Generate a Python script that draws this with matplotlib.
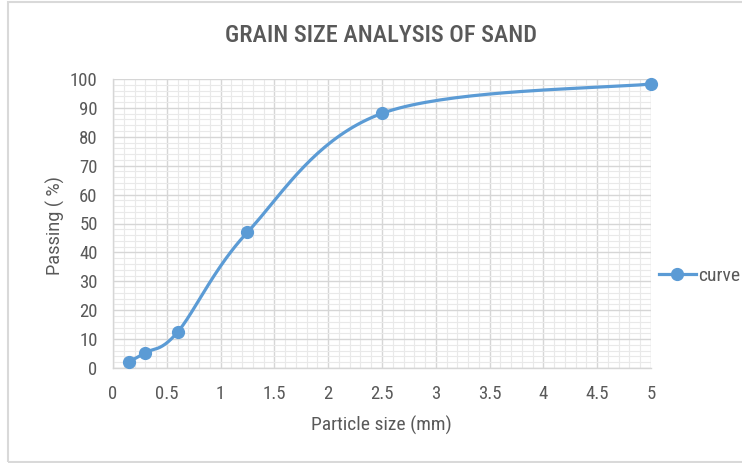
import matplotlib
matplotlib.use("Agg")
import matplotlib.pyplot as plt
import numpy as np
from matplotlib.patches import Rectangle
from matplotlib.lines import Line2D
from matplotlib.ticker import MultipleLocator

# ---- data ----
particle_size = [0.15, 0.3, 0.6, 1.25, 2.5, 5.0]
passing = [2.2, 5.3, 12.4, 47.0, 88.1, 98.3]
series_name = "curve"
title = "GRAIN SIZE ANALYSIS OF SAND"
x_label = "Particle size (mm)"
y_label = "Passing ( %)"
x_ticks = [0, 0.5, 1, 1.5, 2, 2.5, 3, 3.5, 4, 4.5, 5]
x_tick_labels = ["0", "0.5", "1", "1.5", "2", "2.5", "3", "3.5", "4", "4.5", "5"]
y_ticks = [0, 10, 20, 30, 40, 50, 60, 70, 80, 90, 100]

COND = ["Roboto Condensed", "Roboto", "DejaVu Sans"]
REG = ["Roboto", "DejaVu Sans"]
BLUE = "#5B9BD5"
TXT = "#595959"

W, H = 742, 463
fig = plt.figure(figsize=(W / 100, H / 100), dpi=100)
fig.patch.set_facecolor("white")

# outer chart border
fig.add_artist(Rectangle((8 / W, 1.5 / H), 1.2, 1 - 3 / H, transform=fig.transFigure,
                         fill=False, edgecolor="#d9d9d9", linewidth=1.5))

ax = fig.add_axes([113 / W, 1 - 368 / H, (651 - 113) / W, (368 - 79) / H])
ax.set_xlim(0, 5)
ax.set_ylim(0, 100)
ax.set_xticks(x_ticks)
ax.set_xticklabels(x_tick_labels)
ax.set_yticks(y_ticks)
ax.xaxis.set_minor_locator(MultipleLocator(0.1))
ax.yaxis.set_minor_locator(MultipleLocator(2))
ax.grid(True, which="major", color="#d6d6d6", linewidth=1.0)
ax.grid(True, which="minor", color="#e9e9e9", linewidth=0.8)
ax.set_axisbelow(True)
for s in ["top", "right"]:
    ax.spines[s].set_visible(False)
for s in ["left", "bottom"]:
    ax.spines[s].set_color("#d6d6d6")
    ax.spines[s].set_linewidth(1.0)
ax.tick_params(which="both", length=0)
ax.tick_params(axis="x", pad=12, labelsize=13.5, labelcolor=TXT)
ax.tick_params(axis="y", pad=11, labelsize=13.5, labelcolor=TXT)
for lab in ax.get_xticklabels() + ax.get_yticklabels():
    lab.set_family(COND)

# Excel-like smoothed line (Bezier through points, computed in pixel space)
fig.canvas.draw()
pts = ax.transData.transform(np.column_stack([particle_size, passing]))
n = len(pts)
curve = [pts[0]]
t = np.linspace(0, 1, 40)[1:]
for i in range(n - 1):
    p0 = pts[max(i - 1, 0)]
    p1 = pts[i]
    p2 = pts[i + 1]
    p3 = pts[min(i + 2, n - 1)]
    c1 = p1 + (p2 - p0) / 6.0
    c2 = p2 - (p3 - p1) / 6.0
    seg = ((1 - t) ** 3)[:, None] * p1 + (3 * (1 - t) ** 2 * t)[:, None] * c1 \
        + (3 * (1 - t) * t ** 2)[:, None] * c2 + (t ** 3)[:, None] * p2
    curve.extend(seg)
curve = ax.transData.inverted().transform(np.array(curve))
ax.plot(curve[:, 0], curve[:, 1], color=BLUE, linewidth=2.3, solid_capstyle="round", clip_on=False, zorder=3)
ax.plot(particle_size, passing, linestyle="none", marker="o", markersize=8.5,
        color=BLUE, clip_on=False, zorder=4)

# title and axis labels
fig.text(381 / W, 1 - 35 / H, title, ha="center", va="center", fontsize=17.5,
         color=TXT, family=COND, fontweight="medium")
fig.text(381.5 / W, 1 - 425 / H, x_label, ha="center", va="center", fontsize=14,
         color=TXT, family=COND)
fig.text(55 / W, 1 - 226 / H, y_label, ha="center", va="center", fontsize=13,
         color=TXT, rotation=90, family=REG)

# legend
handle = Line2D([], [], color=BLUE, linewidth=2.3, marker="o", markersize=8.5)
leg = fig.legend([handle], [series_name], loc="center left",
                 bbox_to_anchor=(659 / W, 1 - 276 / H), frameon=False,
                 handlelength=1.9, handletextpad=0.1, borderpad=0, borderaxespad=0,
                 prop={"family": COND, "size": 14})
for tx in leg.get_texts():
    tx.set_color(TXT)

fig.savefig("out.png", dpi=100)
